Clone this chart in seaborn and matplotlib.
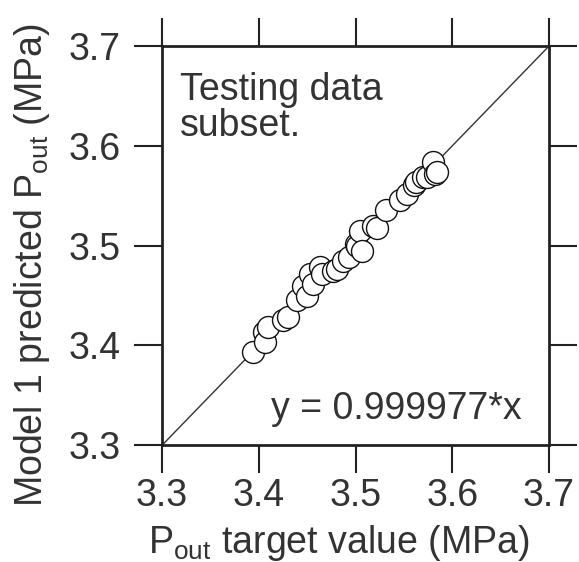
import matplotlib
matplotlib.use("Agg")
import matplotlib.pyplot as plt
import seaborn as sns
import numpy as np
import pandas as pd

target = [3.394, 3.405, 3.406, 3.410, 3.425, 3.430, 3.439, 3.446, 3.450, 3.453, 3.456,
          3.463, 3.465, 3.477, 3.481, 3.487, 3.493, 3.500, 3.502, 3.505, 3.507, 3.518,
          3.522, 3.532, 3.546, 3.553, 3.560, 3.563, 3.570, 3.574, 3.580, 3.582, 3.584]
predicted = [3.393, 3.413, 3.403, 3.418, 3.425, 3.428, 3.445, 3.459, 3.449, 3.472, 3.462,
             3.479, 3.472, 3.475, 3.477, 3.485, 3.489, 3.502, 3.500, 3.515, 3.495, 3.520,
             3.518, 3.536, 3.546, 3.552, 3.561, 3.564, 3.569, 3.569, 3.584, 3.572, 3.574]
slope = 0.999977
ticks = [3.3, 3.4, 3.5, 3.6, 3.7]

sns.set_style("white")
plt.rcParams['font.family'] = ['Liberation Sans', 'DejaVu Sans']
plt.rcParams['mathtext.default'] = 'regular'

FS = 27
fig = plt.figure(figsize=(5.79, 5.62), dpi=100)
ax = fig.add_axes([0.280, 0.208, 0.668, 0.710])

fit_x = np.array([ticks[0], ticks[-1]])
ax.plot(fit_x, slope * fit_x, color='#333333', lw=1.0, zorder=1)

df = pd.DataFrame({'target': target, 'predicted': predicted})
sns.scatterplot(data=df, x='target', y='predicted', ax=ax, s=250,
                facecolor='white', edgecolor='#111111', linewidth=1.0, zorder=3, legend=False)

ax.set_xlim(ticks[0], ticks[-1])
ax.set_ylim(ticks[0], ticks[-1])
ax.set_xticks(ticks)
ax.set_yticks(ticks)
ax.set_xticklabels([f"{t:.1f}" for t in ticks])
ax.set_yticklabels([f"{t:.1f}" for t in ticks])
ax.tick_params(axis='both', which='both', direction='out', length=20, width=1.5,
               color='#222222', labelsize=FS, labelcolor='#333333',
               top=True, right=True, bottom=True, left=True,
               labeltop=False, labelright=False)
ax.tick_params(axis='x', pad=4)
ax.tick_params(axis='y', pad=10)
for sp in ax.spines.values():
    sp.set_linewidth(2)
    sp.set_color('#222222')
    sp.set_visible(True)

ax.set_xlabel('P$_{out}$ target value (MPa)', fontsize=FS, color='#333333')
ax.set_ylabel('Model 1 predicted P$_{out}$ (MPa)', fontsize=FS, color='#333333')
ax.xaxis.set_label_coords(0.457, -0.195)
ax.yaxis.set_label_coords(-0.284, 0.45)

ax.text(0.045, 0.935, 'Testing data\nsubset.', transform=ax.transAxes, fontsize=FS,
        color='#333333', va='top', ha='left', linespacing=1.0)
ax.text(0.93, 0.09, 'y = 0.999977*x', transform=ax.transAxes, fontsize=FS,
        color='#333333', va='center', ha='right')

fig.savefig('out.png', dpi=100, facecolor='white')
